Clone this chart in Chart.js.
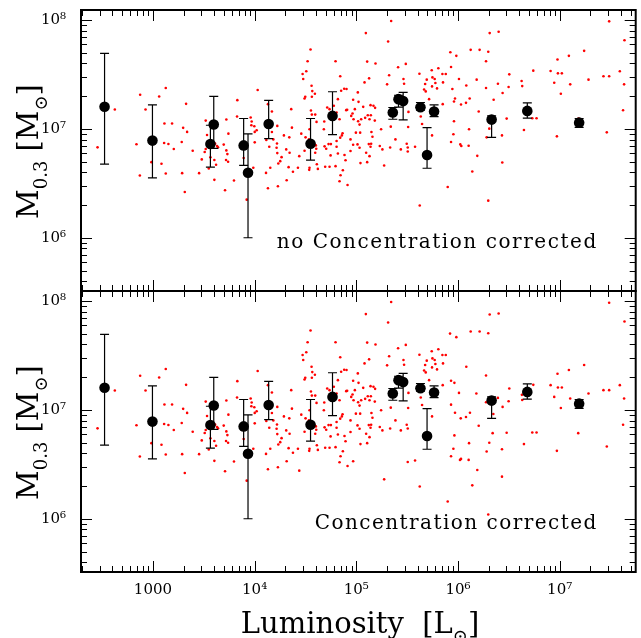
<!DOCTYPE html>
<html><head><meta charset="utf-8">
<script src="https://cdn.jsdelivr.net/npm/chart.js@4/dist/chart.umd.min.js"></script>
<style>
html,body{margin:0;padding:0;background:#fff;}
#wrap{position:relative;width:641px;height:638px;overflow:hidden;}
canvas{position:absolute;left:0;}
</style></head><body>
<div id="wrap">
<canvas id="c1" width="641" height="300" style="top:0"></canvas>
<canvas id="c2" width="641" height="357" style="top:281px"></canvas>
</div>
<script>
// ---- axis ticks ----
const xTickValues = [1e3, 1e4, 1e5, 1e6, 1e7];
const xTickLabels = ['1000', '10\u2074', '10\u2075', '10\u2076', '10\u2077'];
const yTickValues = [1e6, 1e7, 1e8];
const yTickLabels = ['10\u2076', '10\u2077', '10\u2078'];

// ---- binned means (log10 L, log10 M, error range in log10 M) ----
const meanLogL = [2.524,2.995,3.565,3.598,3.892,3.935,4.138,4.550,4.766,5.359,5.415,5.461,5.631,5.696,5.765,6.331,6.682,7.192];
const meanLogM = [7.204,6.893,6.862,7.041,6.849,6.597,7.046,6.864,7.120,7.151,7.274,7.256,7.200,6.760,7.160,7.086,7.166,7.058];
const errLogHi = [7.694,7.222,7.034,7.299,7.096,6.954,7.262,7.096,7.342,7.197,7.310,7.336,7.243,7.012,7.222,7.120,7.240,7.095];
const errLogLo = [6.677,6.551,6.649,6.822,6.665,6.000,6.911,6.713,6.948,7.089,7.200,7.083,7.172,6.639,7.114,6.923,7.099,7.015];

// ---- individual objects [log10 L, log10 M] identical in both panels ----
const sharedDots = [
[2.625,7.179],[2.455,6.831],[2.874,7.315],[2.927,7.179],[2.838,6.859],[2.871,6.572],[3.126,7.376],[3.061,7.299],[3.113,7.050],[3.188,7.050],
[3.110,6.871],[3.152,6.862],[3.205,6.816],[3.084,6.680],[3.126,6.591],[2.985,6.695],[3.326,7.231],[3.297,7.010],[3.336,6.973],[3.283,6.880],
[3.391,6.800],[3.313,6.421],[3.287,6.594],[3.454,6.594],[3.519,7.077],[3.532,6.945],[3.480,6.720],[3.509,6.788],[3.519,6.816],[3.549,6.637],
[3.565,6.739],[3.604,6.714],[3.621,6.671],[3.604,6.532],[3.617,7.013],[3.611,6.865],[3.631,6.843],[3.640,6.831],[3.722,7.087],[3.742,6.957],
[3.696,6.856],[3.722,6.803],[3.732,6.769],[3.719,6.714],[3.739,6.699],[3.709,6.437],[3.797,6.526],[3.830,7.265],[3.827,7.114],[3.961,7.105],
[3.971,7.068],[3.997,7.025],[3.968,7.034],[4.020,6.988],[4.001,6.973],[4.001,6.877],[3.892,6.732],[3.987,6.643],[3.922,6.350],[4.030,7.358],
[4.115,6.898],
[4.131,7.228],[4.170,7.160],[4.223,7.028],[4.170,6.972],[4.184,6.904],[4.144,6.837],[4.220,6.867],[4.216,6.827],[4.223,6.778],[4.265,6.741],
[4.252,6.704],[4.233,6.683],[4.154,6.643],[4.112,6.596],[4.131,6.455],[4.229,6.473],[4.288,6.941],[4.341,6.923],[4.360,7.182],[4.367,7.012],
[4.311,6.812],[4.344,6.781],[4.334,6.649],[4.377,6.606],[4.315,6.529],
[4.426,6.643],[4.459,6.957],[4.491,6.800],[4.501,6.923],[4.472,7.505],[4.478,7.459],[4.508,7.530],[4.521,7.622],[4.550,7.730],[4.491,7.280],
[4.498,7.296],[4.560,7.397],[4.567,7.348],[4.593,7.323],[4.563,7.296],[4.554,7.169],[4.563,7.132],[4.596,7.132],[4.540,6.997],[4.534,6.904],
[4.609,7.065],[4.603,6.849],[4.606,6.818],[4.596,6.781],[4.586,6.867],[4.612,6.676],[4.622,6.633],[4.540,6.643],[4.537,6.624],[4.685,7.068],
[4.681,6.997],[4.714,7.197],[4.737,7.182],[4.727,6.861],[4.688,6.840],[4.704,6.818],[4.694,6.652],[4.737,6.652],[4.747,6.757],[4.750,6.861],
[4.796,7.622],[4.842,7.484],[4.851,7.351],[4.881,7.370],[4.904,7.367],[4.819,7.274],[4.779,7.213],[4.806,7.151],[4.835,7.089],[4.858,6.941],
[4.865,6.960],[4.842,6.920],[4.806,6.889],[4.806,6.837],[4.819,6.775],[4.884,6.760],[4.894,6.713],[4.868,6.621],[4.845,6.575],[4.835,6.519],
[4.914,6.485],[4.796,6.658],[4.910,7.176],[4.901,7.173],[4.950,7.120],[4.969,7.268],[4.963,7.142],[4.973,7.089],[4.986,7.182],[5.015,7.336],
[5.022,7.249],[4.996,6.966],[5.038,6.966],[5.018,7.071],[5.048,7.089],[5.032,7.040],[5.032,6.827],[5.012,6.858],[4.943,6.904],
[4.943,6.797],[5.041,6.686],[5.094,7.881],[5.107,7.619],[5.081,7.428],[5.126,7.465],[5.189,7.601],[5.068,7.203],[5.113,7.126],[5.087,7.102],
[5.140,7.219],[5.169,7.213],[5.185,7.194],[5.143,7.126],[5.130,7.089],[5.182,7.077],[5.149,6.972],[5.159,6.929],[5.123,6.861],[5.146,6.864],
[5.140,6.837],[5.097,6.781],[5.130,6.750],[5.107,6.695],[5.244,6.997],[5.231,6.843],[5.257,6.812],
[5.343,7.992],[5.313,7.804],[5.323,7.493],[5.303,7.410],[5.349,7.126],[5.339,7.021],[5.333,6.830],[5.385,6.904],[5.411,7.567],[5.464,7.459],
[5.470,7.416],[5.487,7.598],[5.444,7.299],[5.513,7.157],[5.510,7.018],[5.496,6.864],[5.506,6.830],[5.438,6.812],
[5.621,7.508],[5.677,7.413],[5.667,7.363],[5.683,7.345],[5.693,7.453],[5.716,7.274],[5.742,7.539],[5.749,7.474],[5.745,7.391],[5.807,7.558],
[5.794,7.373],[5.778,7.422],[5.771,7.459],[5.847,7.505],[5.853,7.428],[5.880,7.505],[5.634,7.114],[5.647,7.046],[5.745,6.941],[5.850,7.228],
[5.624,6.297]
];

// ---- objects only in the upper panel (no concentration correction) ----
const uncorrectedDots = [
[4.439,6.750],[4.969,6.855],[5.274,6.664],[5.506,6.793],[5.578,6.837],[5.899,6.467],[5.925,7.705],[5.945,7.367],[5.955,6.951],
[5.984,7.672],[5.932,7.570],[6.010,7.459],[5.971,7.280],[5.961,7.253],[5.961,7.071],[5.932,6.880],[6.125,7.727],[6.213,7.727],[6.298,7.709],
[6.276,7.622],[6.312,7.881],[6.400,7.893],[6.082,7.400],[6.184,7.453],[6.115,7.280],[6.079,7.240],[6.030,7.225],[6.276,7.376],[6.393,7.416],
[6.351,7.268],[6.204,7.160],[6.109,6.997],[6.023,6.858],[6.033,6.843],[6.105,6.846],[6.190,6.753],[6.141,6.609],[6.298,6.341],[6.282,6.923],
[6.308,7.003],[6.433,6.941],[6.436,6.692],[6.479,7.095],[6.498,7.385],[6.439,7.330],[6.505,7.502],[6.626,7.441],[6.632,7.394],[6.649,6.991],
[6.731,7.099],[6.773,7.099],[6.741,7.536],[6.911,7.533],[6.947,7.425],[6.983,7.511],[7.022,7.511],[6.979,7.638],[7.012,7.323],[7.091,7.672],
[7.104,7.410],[6.973,6.932],[7.241,7.718],[7.284,7.453],[7.186,7.095],[7.431,7.484],[7.487,7.484],[7.487,7.989],[7.592,7.530],[7.634,7.410],
[7.638,7.816],[7.624,7.172],[7.464,6.969]
];

// ---- objects only in the lower panel (concentration corrected) ----
const correctedDots = [
[4.439,6.442],[4.969,6.528],[5.274,6.362],[5.506,6.522],[5.578,6.535],[5.899,6.159],
[5.922,7.702],[5.984,7.669],[5.932,7.268],[5.965,7.249],[6.010,7.157],[5.932,7.049],[5.971,6.975],[5.965,6.766],[5.955,6.643],[5.932,6.575],
[6.125,7.721],[6.213,7.721],[6.298,7.705],[6.312,7.878],[6.400,7.887],[6.082,7.397],[6.276,7.317],[6.181,7.151],[6.118,6.975],[6.079,6.935],
[6.027,6.923],[6.276,7.071],[6.393,7.111],[6.505,7.197],[6.498,7.080],[6.439,7.028],[6.348,6.963],[6.204,6.855],[6.109,6.695],[6.030,6.550],
[6.020,6.541],[6.105,6.541],[6.190,6.448],[6.141,6.307],[6.298,6.039],[6.308,6.698],[6.282,6.618],[6.341,6.787],[6.433,6.639],[6.433,6.387],
[6.479,6.790],[6.629,7.139],[6.632,7.092],[6.649,6.686],[6.731,6.793],[6.773,6.793],[6.741,7.231],[6.911,7.228],[6.947,7.120],[6.983,7.206],
[7.022,7.206],[6.979,7.333],[7.012,7.018],[7.091,7.367],[7.104,7.105],[6.973,6.624],[7.183,6.787],[7.241,7.413],[7.284,7.151],[7.431,7.182],
[7.487,7.182],[7.487,7.986],[7.592,7.228],[7.634,7.105],[7.638,7.813],[7.624,6.864],[7.464,6.664]
];

const FONT = "'DejaVu Serif', 'Liberation Serif', serif";

function toPoints(pairs) { return pairs.map(p => ({ x: Math.pow(10, p[0]), y: Math.pow(10, p[1]) })); }
const meanPoints = meanLogL.map((l, i) => ({ x: Math.pow(10, l), y: Math.pow(10, meanLogM[i]),
  yHi: Math.pow(10, errLogHi[i]), yLo: Math.pow(10, errLogLo[i]) }));

function drawRich(ctx, parts, cx, baseY, size) {
  let total = 0;
  const ws = parts.map(p => {
    ctx.font = (p.sub ? size * 0.62 : size) + 'px ' + FONT;
    const w = ctx.measureText(p.t).width; total += w; return w;
  });
  let x = cx - total / 2;
  ctx.textAlign = 'left'; ctx.textBaseline = 'alphabetic';
  parts.forEach((p, i) => {
    ctx.font = (p.sub ? size * 0.62 : size) + 'px ' + FONT;
    ctx.fillText(p.t, x, baseY + (p.sub ? size * 0.3 : 0));
    x += ws[i];
  });
}

const panelPlugin = {
  id: 'panel',
  afterDatasetsDraw(chart) {
    const { ctx, scales: { x, y } } = chart;
    const ds = chart.data.datasets[0].data;
    ctx.save();
    ctx.strokeStyle = '#000'; ctx.lineWidth = 1.2;
    ds.forEach(p => {
      const px = x.getPixelForValue(p.x);
      const hi = y.getPixelForValue(p.yHi), lo = y.getPixelForValue(p.yLo);
      ctx.beginPath();
      ctx.moveTo(px, hi); ctx.lineTo(px, lo);
      ctx.moveTo(px - 4.5, hi); ctx.lineTo(px + 4.5, hi);
      ctx.moveTo(px - 4.5, lo); ctx.lineTo(px + 4.5, lo);
      ctx.stroke();
    });
    ctx.restore();
  },
  afterDraw(chart, args, opts) {
    const { ctx, chartArea: a, scales: { x, y } } = chart;
    ctx.save();
    ctx.strokeStyle = '#000'; ctx.lineWidth = 1;
    const seg = (x1, y1, x2, y2) => { ctx.beginPath(); ctx.moveTo(x1, y1); ctx.lineTo(x2, y2); ctx.stroke(); };
    for (let e = 2; e <= 8; e++) for (let m = 1; m <= 9; m++) {
      const v = m * Math.pow(10, e);
      const len = m === 1 ? 11 : 6;
      if (v >= x.min && v <= x.max) {
        const px = Math.round(x.getPixelForValue(v)) + 0.5;
        seg(px, a.top, px, a.top + len); seg(px, a.bottom, px, a.bottom - len);
      }
      if (v >= y.min && v <= y.max) {
        const py = Math.round(y.getPixelForValue(v)) + 0.5;
        seg(a.left, py, a.left + len, py); seg(a.right, py, a.right - len, py);
      }
    }
    ctx.lineWidth = 2;
    ctx.strokeRect(a.left, a.top, a.right - a.left, a.bottom - a.top);
    ctx.fillStyle = '#000';
    // panel note
    ctx.font = '20px ' + FONT;
    ctx.letterSpacing = '0px';
    const w0 = ctx.measureText(opts.note).width;
    const sp = (opts.noteWidth - w0) / opts.note.length;
    ctx.letterSpacing = sp.toFixed(2) + 'px';
    ctx.textAlign = 'left'; ctx.textBaseline = 'alphabetic';
    ctx.fillText(opts.note, a.right - 38 - opts.noteWidth, a.bottom - 43);
    ctx.letterSpacing = '0px';
    // y title (rotated)
    ctx.save();
    ctx.translate(38, (a.top + a.bottom) / 2 + 1);
    ctx.rotate(-Math.PI / 2);
    drawRich(ctx, [{ t: 'M' }, { t: '0.3', sub: true }, { t: ' [M' }, { t: '\u2299', sub: true }, { t: ']' }], 0, 0, 29);
    ctx.restore();
    if (opts.xTitle) {
      drawRich(ctx, [{ t: 'Luminosity  [L' }, { t: '\u2299', sub: true }, { t: ']' }], 360, a.bottom + 61, 29);
    }
    ctx.restore();
  }
};

function makeChart(id, dots, note, noteWidth, showX) {
  const xScale = {
    type: 'logarithmic', min: 196, max: 5.6e7, display: showX,
    grid: { display: false, drawTicks: false }, border: { display: false },
    afterBuildTicks: s => { s.ticks = xTickValues.map(v => ({ value: v })); },
    afterFit: s => { s.height = showX ? 66 : 0; s.paddingLeft = 0; s.paddingRight = 0; },
    ticks: { padding: 9, autoSkip: false, maxRotation: 0, color: '#000', font: { family: FONT, size: 15 },
      callback: v => { const i = xTickValues.indexOf(v); return i >= 0 ? xTickLabels[i] : ''; } }
  };
  return new Chart(document.getElementById(id), {
    type: 'scatter',
    data: { datasets: [
      { data: meanPoints, pointRadius: 5.3, backgroundColor: '#000', borderWidth: 0 },
      { data: toPoints(dots), pointRadius: 1.3, backgroundColor: '#ff0000', borderWidth: 0 }
    ] },
    options: {
      responsive: false, animation: false, events: [],
      layout: { padding: { top: 10, right: 5, bottom: showX ? 0 : 9, left: 0 } },
      plugins: { legend: { display: false }, tooltip: { enabled: false },
        panel: { note: note, noteWidth: noteWidth, xTitle: showX } },
      scales: {
        x: xScale,
        y: {
          type: 'logarithmic', min: 3.24e5, max: 1.24e8,
          grid: { display: false, drawTicks: false }, border: { display: false },
          afterBuildTicks: s => { s.ticks = yTickValues.map(v => ({ value: v })); },
          afterFit: s => { s.width = 81; s.paddingTop = 0; s.paddingBottom = 0; },
          ticks: { padding: 15, color: '#000', font: { family: FONT, size: 15 },
            callback: v => { const i = yTickValues.indexOf(v); return i >= 0 ? yTickLabels[i] : ''; } }
        }
      }
    },
    plugins: [panelPlugin]
  });
}

makeChart('c1', sharedDots.concat(uncorrectedDots), 'no Concentration corrected', 321, false);
makeChart('c2', sharedDots.concat(correctedDots), 'Concentration corrected', 283, true);
</script>
</body></html>
